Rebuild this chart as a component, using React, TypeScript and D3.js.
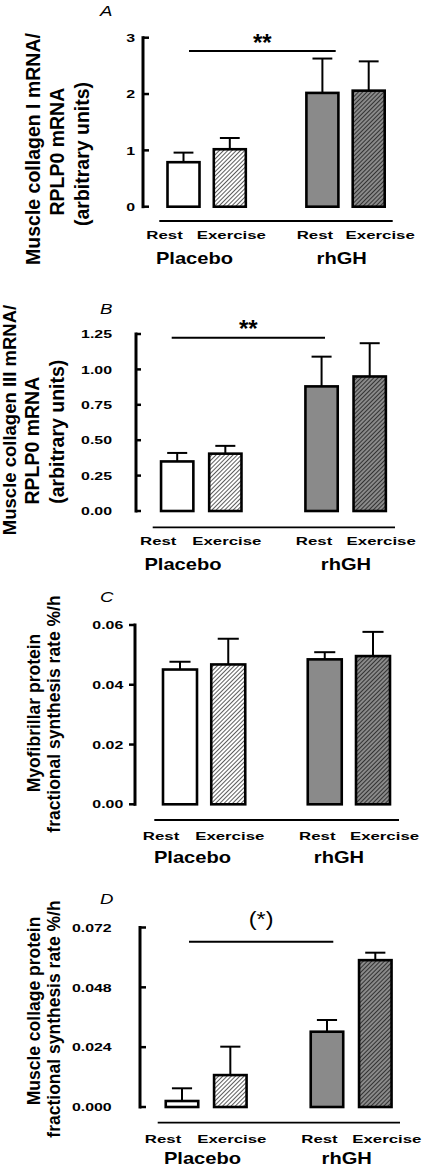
import React from "react";
import * as d3 from "d3";

// ---------- DATA ----------
const categories = ["Rest", "Exercise", "Rest", "Exercise"];
const groups = ["Placebo", "rhGH"];

const collagenIMean = [0.79, 1.02, 2.02, 2.06];
const collagenISem = [0.17, 0.2, 0.61, 0.52];

const collagenIIIMean = [0.35, 0.405, 0.88, 0.95];
const collagenIIISem = [0.06, 0.055, 0.21, 0.235];

const myofibMean = [0.0451, 0.0468, 0.0485, 0.0496];
const myofibSem = [0.0026, 0.0086, 0.0024, 0.0081];

const collProtMean = [0.0024, 0.0128, 0.0302, 0.0589];
const collProtSem = [0.0051, 0.0114, 0.0047, 0.003];

const ticksA = [0, 1, 2, 3];
const ticksB = [0, 0.25, 0.5, 0.75, 1.0, 1.25];
const ticksC = [0, 0.02, 0.04, 0.06];
const ticksD = [0, 0.024, 0.048, 0.072];

const ylabelA = ["Muscle collagen I mRNA/", "RPLP0 mRNA", "(arbitrary units)"];
const ylabelB = ["Muscle collagen III mRNA/", "RPLP0 mRNA", "(arbitrary units)"];
const ylabelC = ["Myofibrillar protein", "fractional synthesis rate %/h"];
const ylabelD = ["Muscle collage protein", "fractional synthesis rate %/h"];

const panelLetters = ["A", "B", "C", "D"];
const sigLabels = ["**", "**", "", "(*)"];

// ---------- LAYOUT ----------
const FONT = "'Liberation Sans', Arial, Helvetica, sans-serif";
const slots = [0, 1, 3, 4];
const catOffsets = [-19, 1.5, -7.5, 11.5];
const fills = ["#ffffff", "url(#hatchLight)", "#8a8a8a", "url(#hatchDark)"];

const panels = [
  {
    mean: collagenIMean, sem: collagenISem, ticks: ticksA, fmt: d3.format(".0f"), max: 3,
    axisX: 143, y0: 206.7, yTop: 37.7, tickDir: 1, tickLen: 6, tickRight: 135,
    c0: 183.5, c4: 368.7, bw: 32, baseY: 221, baseX: [159.3, 392.7],
    catY: 239.3, groupY: 264.3, groupX: [194.5, 341.7], letterY: 15.5,
    sig: { y: 51, x1: 189, x2: 335.7, ty: 51, size: 24, weight: "bold" },
    ylabel: ylabelA, ylx: [34, 58.5, 83], yly: [149, 151.7, 154], ylfs: [19.5, 19.5, 19.5],
  },
  {
    mean: collagenIIIMean, sem: collagenIIISem, ticks: ticksB, fmt: d3.format(".2f"), max: 1.25,
    axisX: 136, y0: 511, yTop: 334, tickDir: 1, tickLen: 5, tickRight: 112,
    c0: 177.2, c4: 369.7, bw: 32.3, baseY: 527.3, baseX: [152.7, 395],
    catY: 545, groupY: 570, groupX: [183, 346], letterY: 313.5,
    sig: { y: 337.7, x1: 171.7, x2: 325, ty: 336.5, size: 24, weight: "bold" },
    ylabel: ylabelB, ylx: [10.5, 33.5, 58], yly: [420, 440.7, 431.7], ylfs: [18.5, 19.5, 19.5],
  },
  {
    mean: myofibMean, sem: myofibSem, ticks: ticksC, fmt: d3.format(".2f"), max: 0.06,
    axisX: 135, y0: 804.3, yTop: 625, tickDir: -1, tickLen: 6, tickRight: 123.3,
    c0: 180, c4: 373, bw: 34, baseY: 820, baseX: [154.3, 399],
    catY: 840, groupY: 863.3, groupX: [192.5, 339], letterY: 602,
    sig: null,
    ylabel: ylabelC, ylx: [34.3, 55], yly: [713, 714], ylfs: [17.5, 17.5],
  },
  {
    mean: collProtMean, sem: collProtSem, ticks: ticksD, fmt: d3.format(".3f"), max: 0.072,
    axisX: 140, y0: 1107, yTop: 927.5, tickDir: 1, tickLen: 6, tickRight: 111.7,
    c0: 182, c4: 375.3, bw: 32.5, baseY: 1122.7, baseX: [157.7, 400],
    catY: 1143.3, groupY: 1164.2, groupX: [202.5, 346.7], letterY: 903.5,
    sig: { y: 941.7, x1: 189, x2: 333.3, ty: 926, size: 19.5, weight: "normal" },
    ylabel: ylabelD, ylx: [35, 55], yly: [1011, 1019], ylfs: [17.5, 17.5],
  },
];

function SText(props: any) {
  const { x, y, sx = 1, anchor = "middle", size, weight = "bold", italic, dy, children } = props;
  return (
    <text
      transform={`translate(${x},${y}) scale(${sx},1)`}
      textAnchor={anchor}
      fontSize={size}
      fontWeight={weight}
      fontStyle={italic ? "italic" : "normal"}
      fontFamily={FONT}
      dy={dy}
      fill="#000"
    >
      {children}
    </text>
  );
}

function Panel({ p, idx }: any) {
  const y = d3.scaleLinear().domain([0, p.max]).range([p.y0, p.yTop]);
  const x = d3.scaleLinear().domain([0, 4]).range([p.c0, p.c4]);
  const capHalf = p.bw * 0.31;
  return (
    <g>
      {/* panel letter */}
      <SText x={100} y={p.letterY} sx={1.2} anchor="start" size={15.5} weight="normal" italic>
        {panelLetters[idx]}
      </SText>
      {/* y label */}
      {p.ylabel.map((t: string, i: number) => (
        <text
          key={i}
          transform={`translate(${p.ylx[i]},${p.yly[i]}) rotate(-90)`}
          textAnchor="middle"
          dy="0.3em"
          fontSize={p.ylfs[i]}
          fontWeight="bold"
          fontFamily={FONT}
        >
          {t}
        </text>
      ))}
      {/* axis */}
      <line x1={p.axisX} x2={p.axisX} y1={y(p.max) - 1.5} y2={y(0) + 1.5} stroke="#000" strokeWidth={3} />
      {p.ticks.map((t: number, i: number) => (
        <g key={i}>
          <line
            x1={p.axisX}
            x2={p.axisX + p.tickDir * p.tickLen}
            y1={y(t)}
            y2={y(t)}
            stroke="#000"
            strokeWidth={2.5}
          />
          <SText x={p.tickRight} y={y(t)} dy="0.36em" sx={1.37} anchor="end" size={11.6}>
            {p.fmt(t)}
          </SText>
        </g>
      ))}
      {/* bars */}
      {p.mean.map((m: number, i: number) => {
        const cx = x(slots[i]);
        const top = y(m);
        const errTop = y(m + p.sem[i]);
        return (
          <g key={i}>
            <line x1={cx} x2={cx} y1={top} y2={errTop} stroke="#000" strokeWidth={2} />
            <line x1={cx - capHalf} x2={cx + capHalf} y1={errTop} y2={errTop} stroke="#000" strokeWidth={2} />
            <rect
              x={cx - p.bw / 2}
              y={top}
              width={p.bw}
              height={y(0) - top}
              fill={fills[i]}
              stroke="#000"
              strokeWidth={2.6}
            />
          </g>
        );
      })}
      {/* base line */}
      <line x1={p.baseX[0]} x2={p.baseX[1]} y1={p.baseY} y2={p.baseY} stroke="#000" strokeWidth={1.8} />
      {categories.map((c, i) => (
        <SText key={i} x={x(slots[i]) + catOffsets[i]} y={p.catY} sx={1.45} size={11.6}>
          {c}
        </SText>
      ))}
      {groups.map((g, i) => (
        <SText key={i} x={p.groupX[i]} y={p.groupY} sx={1.22} size={16.5}>
          {g}
        </SText>
      ))}
      {/* significance */}
      {p.sig && (
        <g>
          <line x1={p.sig.x1} x2={p.sig.x2} y1={p.sig.y} y2={p.sig.y} stroke="#000" strokeWidth={2} />
          <SText
            x={(p.sig.x1 + p.sig.x2) / 2}
            y={p.sig.ty}
            sx={p.sig.weight === "bold" ? 1 : 1.2}
            size={p.sig.size}
            weight={p.sig.weight}
          >
            {sigLabels[idx]}
          </SText>
        </g>
      )}
    </g>
  );
}

export default function App() {
  return (
    <svg
      width={426}
      height={1168}
      viewBox="0 0 426 1168"
      style={{ position: "absolute", left: 0, top: 0, background: "#fff", display: "block" }}
    >
      <defs>
        <pattern id="hatchLight" patternUnits="userSpaceOnUse" width={3} height={3} patternTransform="rotate(45)">
          <rect width={3} height={3} fill="#fff" />
          <line x1={0.5} y1={0} x2={0.5} y2={3} stroke="#333" strokeWidth={0.8} />
        </pattern>
        <pattern id="hatchDark" patternUnits="userSpaceOnUse" width={3} height={3} patternTransform="rotate(45)">
          <rect width={3} height={3} fill="#8a8a8a" />
          <line x1={0.5} y1={0} x2={0.5} y2={3} stroke="#333" strokeWidth={1} />
        </pattern>
      </defs>
      <rect width={426} height={1168} fill="#fff" />
      {panels.map((p, i) => (
        <Panel key={i} p={p} idx={i} />
      ))}
    </svg>
  );
}
